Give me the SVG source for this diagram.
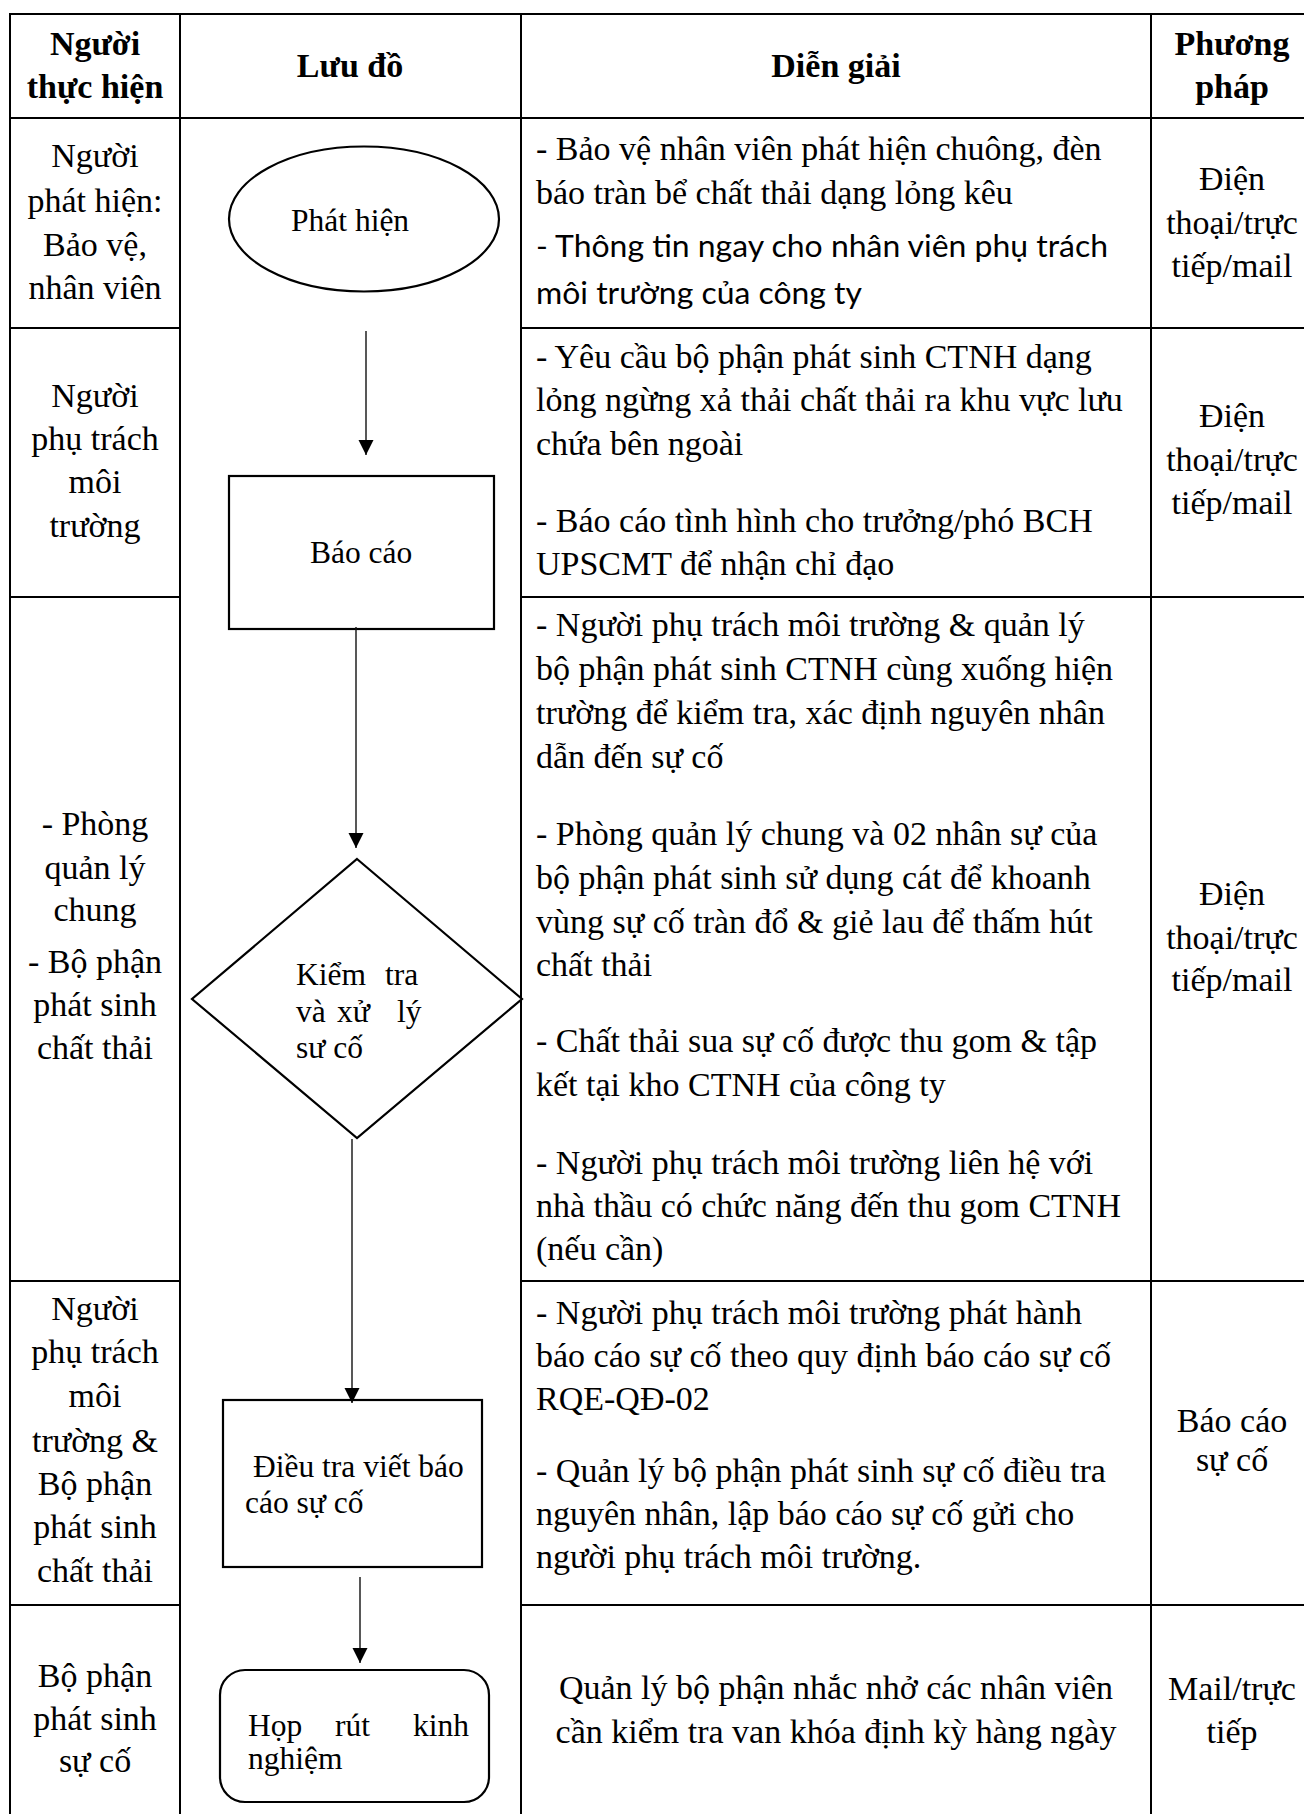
<svg xmlns="http://www.w3.org/2000/svg" width="1304" height="1814" viewBox="0 0 1304 1814">
  <style>
    .grid { stroke: #000; stroke-width: 2; fill: none; }
    .cell { font-family: "Liberation Serif", "Times New Roman", serif; font-size: 34px; fill: #000; }
    .mid { text-anchor: middle; }
    .head { font-weight: bold; }
    .sans { font-family: Lato, "Noto Sans", sans-serif; font-size: 31px; fill: #000; }
    .node { fill: #fff; stroke: #000; stroke-width: 2.2; }
    .label { font-family: "Liberation Serif", "Times New Roman", serif; font-size: 31.5px; fill: #000; }
    .flow { stroke: #111; stroke-width: 1.4; fill: none; marker-end: url(#arrow); }
  </style>
  <defs>
    <marker id="arrow" markerUnits="userSpaceOnUse" markerWidth="16" markerHeight="16" refX="15" refY="7.5" orient="auto">
      <path d="M0,0 L15,7.5 L0,15 z" fill="#000"/>
    </marker>
  </defs>

  <rect width="1304" height="1814" fill="#fff"/>

  <!-- table grid: the flowchart column is one merged cell below the header -->
  <g id="table">
    <line class="grid" x1="10" y1="14" x2="1304" y2="14" stroke-width="2.5"/>
    <line class="grid" x1="10" y1="118" x2="1304" y2="118"/>
    <line class="grid" x1="10" y1="328" x2="180" y2="328"/>
    <line class="grid" x1="521" y1="328" x2="1304" y2="328"/>
    <line class="grid" x1="10" y1="597" x2="180" y2="597"/>
    <line class="grid" x1="521" y1="597" x2="1304" y2="597"/>
    <line class="grid" x1="10" y1="1281" x2="180" y2="1281"/>
    <line class="grid" x1="521" y1="1281" x2="1304" y2="1281"/>
    <line class="grid" x1="10" y1="1605" x2="180" y2="1605"/>
    <line class="grid" x1="521" y1="1605" x2="1304" y2="1605"/>
    <line class="grid" x1="10" y1="13" x2="10" y2="1814"/>
    <line class="grid" x1="180" y1="14" x2="180" y2="1814"/>
    <line class="grid" x1="521" y1="14" x2="521" y2="1814"/>
    <line class="grid" x1="1151" y1="14" x2="1151" y2="1814"/>
  </g>

  <!-- header row -->
  <g id="header" class="cell head mid">
    <text x="95" y="55">Người</text>
    <text x="95" y="98">thực hiện</text>
    <text x="350" y="77">Lưu đồ</text>
    <text x="836" y="77">Diễn giải</text>
    <text x="1232" y="55">Phương</text>
    <text x="1232" y="98">pháp</text>
  </g>

  <!-- column: người thực hiện -->
  <g id="actors" class="cell mid">
    <text x="95" y="167">Người</text>
    <text x="95" y="212">phát hiện:</text>
    <text x="95" y="256">Bảo vệ,</text>
    <text x="95" y="299">nhân viên</text>

    <text x="95" y="407">Người</text>
    <text x="95" y="450">phụ trách</text>
    <text x="95" y="493">môi</text>
    <text x="95" y="537">trường</text>

    <text x="95" y="835">- Phòng</text>
    <text x="95" y="879">quản lý</text>
    <text x="95" y="921">chung</text>
    <text x="95" y="973">- Bộ phận</text>
    <text x="95" y="1016">phát sinh</text>
    <text x="95" y="1059">chất thải</text>

    <text x="95" y="1320">Người</text>
    <text x="95" y="1363">phụ trách</text>
    <text x="95" y="1407">môi</text>
    <text x="95" y="1452">trường &amp;</text>
    <text x="95" y="1495">Bộ phận</text>
    <text x="95" y="1538">phát sinh</text>
    <text x="95" y="1582">chất thải</text>

    <text x="95" y="1687">Bộ phận</text>
    <text x="95" y="1730">phát sinh</text>
    <text x="95" y="1772">sự cố</text>
  </g>

  <!-- column: diễn giải -->
  <g id="notes" class="cell">
    <text x="536" y="160">- Bảo vệ nhân viên phát hiện chuông, đèn</text>
    <text x="536" y="204">báo tràn bể chất thải dạng lỏng kêu</text>
    <text class="sans" x="536" y="257" textLength="572" lengthAdjust="spacingAndGlyphs">- Thông tin ngay cho nhân viên phụ trách</text>
    <text class="sans" x="536" y="304" textLength="326" lengthAdjust="spacingAndGlyphs">môi trường của công ty</text>

    <text x="536" y="368">- Yêu cầu bộ phận phát sinh CTNH dạng</text>
    <text x="536" y="411">lỏng ngừng xả thải chất thải ra khu vực lưu</text>
    <text x="536" y="455">chứa bên ngoài</text>
    <text x="536" y="532">- Báo cáo tình hình cho trưởng/phó BCH</text>
    <text x="536" y="575">UPSCMT để nhận chỉ đạo</text>

    <text x="536" y="636">- Người phụ trách môi trường &amp; quản lý</text>
    <text x="536" y="680">bộ phận phát sinh CTNH cùng xuống hiện</text>
    <text x="536" y="724">trường để kiểm tra, xác định nguyên nhân</text>
    <text x="536" y="768">dẫn đến sự cố</text>
    <text x="536" y="845">- Phòng quản lý chung và 02 nhân sự của</text>
    <text x="536" y="889">bộ phận phát sinh sử dụng cát để khoanh</text>
    <text x="536" y="933">vùng sự cố tràn đổ &amp; giẻ lau để thấm hút</text>
    <text x="536" y="976">chất thải</text>
    <text x="536" y="1052">- Chất thải sua sự cố được thu gom &amp; tập</text>
    <text x="536" y="1096">kết tại kho CTNH của công ty</text>
    <text x="536" y="1174">- Người phụ trách môi trường liên hệ với</text>
    <text x="536" y="1217">nhà thầu có chức năng đến thu gom CTNH</text>
    <text x="536" y="1260">(nếu cần)</text>

    <text x="536" y="1324">- Người phụ trách môi trường phát hành</text>
    <text x="536" y="1367">báo cáo sự cố theo quy định báo cáo sự cố</text>
    <text x="536" y="1410">RQE-QĐ-02</text>
    <text x="536" y="1482">- Quản lý bộ phận phát sinh sự cố điều tra</text>
    <text x="536" y="1525">nguyên nhân, lập báo cáo sự cố gửi cho</text>
    <text x="536" y="1568">người phụ trách môi trường.</text>

    <text class="mid" x="836" y="1699">Quản lý bộ phận nhắc nhở các nhân viên</text>
    <text class="mid" x="836" y="1743">cần kiểm tra van khóa định kỳ hàng ngày</text>
  </g>

  <!-- column: phương pháp -->
  <g id="methods" class="cell mid">
    <text x="1232" y="190">Điện</text>
    <text x="1232" y="234">thoại/trực</text>
    <text x="1232" y="277">tiếp/mail</text>

    <text x="1232" y="427">Điện</text>
    <text x="1232" y="471">thoại/trực</text>
    <text x="1232" y="514">tiếp/mail</text>

    <text x="1232" y="905">Điện</text>
    <text x="1232" y="949">thoại/trực</text>
    <text x="1232" y="991">tiếp/mail</text>

    <text x="1232" y="1432">Báo cáo</text>
    <text x="1232" y="1471">sự cố</text>

    <text x="1232" y="1700">Mail/trực</text>
    <text x="1232" y="1743">tiếp</text>
  </g>

  <!-- flowchart nodes -->
  <g id="node-phat-hien">
    <ellipse class="node" cx="364" cy="219" rx="135" ry="72.5"/>
    <text class="label" x="291" y="231">Phát hiện</text>
  </g>
  <g id="node-bao-cao">
    <rect class="node" x="229" y="476" width="265" height="153" stroke-width="2.5"/>
    <text class="label" x="310" y="563">Báo cáo</text>
  </g>
  <g id="node-kiem-tra">
    <polygon class="node" points="357,859 522,999 357,1138 192,999"/>
    <text class="label"><tspan x="296" y="985">Kiểm</tspan><tspan x="385" y="985">tra</tspan><tspan x="296" y="1022">và</tspan><tspan x="337" y="1022">xử</tspan><tspan x="397" y="1022">lý</tspan><tspan x="296" y="1058">sư cố</tspan></text>
  </g>
  <g id="node-dieu-tra">
    <rect class="node" x="223" y="1400" width="259" height="167" stroke-width="2.5"/>
    <text class="label"><tspan x="253" y="1477">Điều tra viết báo</tspan><tspan x="245" y="1513">cáo sự cố</tspan></text>
  </g>
  <g id="node-hop">
    <rect class="node" x="220" y="1670" width="269" height="132" rx="25" ry="25" stroke-width="2.5"/>
    <text class="label"><tspan x="248" y="1736">Họp</tspan><tspan x="335" y="1736">rút</tspan><tspan x="413" y="1736">kinh</tspan><tspan x="248" y="1769">nghiệm</tspan></text>
  </g>

  <!-- connectors -->
  <g id="connectors">
    <line class="flow" x1="366" y1="331" x2="366" y2="455"/>
    <line class="flow" x1="356" y1="627" x2="356" y2="848"/>
    <line class="flow" x1="352" y1="1139" x2="352" y2="1403"/>
    <line class="flow" x1="360" y1="1577" x2="360" y2="1663"/>
  </g>
</svg>
